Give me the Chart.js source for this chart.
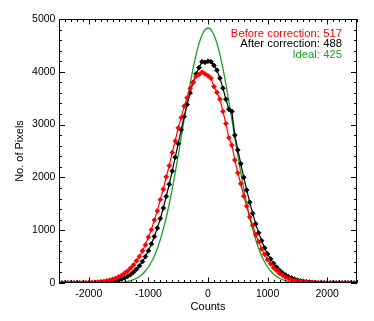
<!DOCTYPE html>
<html>
<head>
<meta charset="utf-8">
<script src="https://cdn.jsdelivr.net/npm/chart.js@4.4.0/dist/chart.umd.min.js"></script>
<style>
  body { margin: 0; background: #fff; }
  #wrap { width: 374px; height: 321px; position: relative; }
</style>
</head>
<body>
<div id="wrap"><canvas id="histChart"></canvas></div>
<script>
// histogram bins (counts)
const bins = [
  -2500, -2450, -2400, -2350, -2300, -2250, -2200, -2150, -2100, -2050,
  -2000, -1950, -1900, -1850, -1800, -1750, -1700, -1650, -1600, -1550,
  -1500, -1450, -1400, -1350, -1300, -1250, -1200, -1150, -1100, -1050,
  -1000, -950, -900, -850, -800, -750, -700, -650, -600, -550,
  -500, -450, -400, -350, -300, -250, -200, -150, -100, -50,
  0, 50, 100, 150, 200, 250, 300, 350, 400, 450,
  500, 550, 600, 650, 700, 750, 800, 850, 900, 950,
  1000, 1050, 1100, 1150, 1200, 1250, 1300, 1350, 1400, 1450,
  1500, 1550, 1600, 1650, 1700, 1750, 1800, 1850, 1900, 1950,
  2000, 2050, 2100, 2150, 2200, 2250, 2300, 2350, 2400, 2450,
  2500
];

// before correction (sigma 517)
const beforeVals = [
  0, 0, 0, 1, 1, 1, 2, 3, 4, 6,
  7, 10, 13, 18, 25, 31, 42, 53, 71, 89,
  116, 144, 185, 226, 282, 341, 420, 503, 609, 722,
  868, 1010, 1192, 1365, 1578, 1776, 2012, 2221, 2472, 2690,
  2938, 3132, 3350, 3510, 3690, 3795, 3915, 3950, 3995, 3960,
  3925, 3880, 3720, 3610, 3480, 3250, 3020, 2750, 2610, 2330,
  2085, 1880, 1645, 1455, 1250, 1090, 915, 782, 645, 545,
  440, 365, 288, 235, 182, 146, 110, 88, 65, 51,
  37, 29, 20, 15, 11, 8, 6, 4, 3, 2,
  1, 1, 0, 0, 0, 0, 0, 0, 0, 0,
  0
];

// after correction (sigma 488)
const afterVals = [
  0, 0, 0, 0, 0, 0, 0, 1, 1, 1,
  2, 3, 5, 7, 10, 13, 18, 25, 33, 44,
  58, 75, 97, 125, 160, 205, 260, 325, 405, 500,
  610, 740, 880, 1040, 1220, 1420, 1640, 1870, 2120, 2380,
  2640, 2900, 3150, 3380, 3600, 3800, 3960, 4080, 4190, 4180,
  4200, 4190, 4120, 4030, 3880, 3690, 3480, 3290, 3250, 2800,
  2520, 2260, 2000, 1760, 1530, 1320, 1120, 950, 800, 665,
  550, 455, 370, 300, 240, 190, 150, 118, 95, 72,
  55, 42, 32, 24, 18, 13, 10, 7, 5, 4,
  3, 2, 1, 1, 0, 0, 0, 0, 0, 0,
  0
];

// ideal (sigma 425)
const idealVals = [
  0, 0, 0, 0, 0, 0, 0, 0, 0, 0,
  0, 0, 0, 0, 1, 1, 2, 3, 4, 6,
  10, 14, 21, 31, 45, 64, 90, 124, 169, 228,
  303, 397, 513, 654, 822, 1019, 1245, 1499, 1781, 2089,
  2417, 2756, 3100, 3440, 3764, 4063, 4324, 4538, 4698, 4797,
  4830, 4797, 4698, 4538, 4324, 4063, 3764, 3440, 3100, 2756,
  2417, 2089, 1781, 1499, 1245, 1019, 822, 654, 513, 397,
  303, 228, 169, 124, 90, 64, 45, 31, 21, 14,
  10, 6, 4, 3, 2, 1, 1, 0, 0, 0,
  0, 0, 0, 0, 0, 0, 0, 0, 0, 0,
  0
];

const xTicks = [-2000, -1000, 0, 1000, 2000];
const yTicks = [0, 1000, 2000, 3000, 4000, 5000];
const legendLines = [
  { text: 'Before correction: 517', color: '#ff0000' },
  { text: 'After correction: 488', color: '#000000' },
  { text: 'Ideal: 425', color: '#1e9e1e' }
];

const FONT = 'Liberation Sans, Arial, Helvetica, sans-serif';

function toPoints(vals) {
  return bins.map((b, i) => ({ x: b, y: vals[i] }));
}

// 边框 + 向内刻度 (IDL 风格)
const frameTicks = {
  id: 'frameTicks',
  afterDraw(chart) {
    const { ctx, chartArea: a, scales: { x, y } } = chart;
    ctx.save();
    ctx.strokeStyle = '#000';
    ctx.lineWidth = 1;
    ctx.strokeRect(a.left + 0.5, a.top + 0.5, a.right - a.left - 1, a.bottom - a.top - 1);
    ctx.beginPath();
    for (let v = -2500; v <= 2500; v += 100) {
      const px = Math.round(x.getPixelForValue(v)) + 0.5;
      const len = v % 1000 === 0 ? 5.5 : 3;
      ctx.moveTo(px, a.bottom); ctx.lineTo(px, a.bottom - len);
      ctx.moveTo(px, a.top); ctx.lineTo(px, a.top + len);
    }
    for (let v = 0; v <= 5000; v += 200) {
      const py = Math.round(y.getPixelForValue(v)) + 0.5;
      const len = v % 1000 === 0 ? 6 : 3;
      ctx.moveTo(a.left, py); ctx.lineTo(a.left + len, py);
      ctx.moveTo(a.right, py); ctx.lineTo(a.right - len, py);
    }
    ctx.stroke();

    // 图例文字
    ctx.font = '11.3px ' + FONT;
    ctx.textAlign = 'right';
    ctx.textBaseline = 'middle';
    legendLines.forEach((l, i) => {
      ctx.fillStyle = l.color;
      ctx.fillText(l.text, 342, 33.5 + i * 10.6);
    });
    ctx.restore();
  }
};

const ctx = document.getElementById('histChart').getContext('2d');
new Chart(ctx, {
  type: 'line',
  data: {
    datasets: [
      {
        label: 'Before correction',
        data: toPoints(beforeVals),
        borderColor: '#ff0000',
        backgroundColor: '#ff0000',
        borderWidth: 1.2,
        pointStyle: 'rectRot',
        pointRadius: 2.4,
        pointBorderWidth: 0.8,
        tension: 0
      },
      {
        label: 'After correction',
        data: toPoints(afterVals),
        borderColor: '#000000',
        backgroundColor: '#000000',
        borderWidth: 1.2,
        pointStyle: 'rectRot',
        pointRadius: 2.4,
        pointBorderWidth: 0.8,
        tension: 0
      },
      {
        label: 'Ideal',
        data: toPoints(idealVals),
        borderColor: '#1e9e1e',
        borderWidth: 1.3,
        pointRadius: 0,
        cubicInterpolationMode: 'monotone'
      }
    ]
  },
  options: {
    responsive: true,
    maintainAspectRatio: false,
    animation: false,
    layout: { padding: { left: 0, top: 19, right: 17, bottom: 0 } },
    plugins: {
      legend: { display: false },
      tooltip: { enabled: false }
    },
    scales: {
      x: {
        type: 'linear',
        min: -2500,
        max: 2500,
        afterBuildTicks: s => { s.ticks = xTicks.map(v => ({ value: v })); },
        afterFit: s => { s.height = 38; },
        grid: { display: false, drawTicks: false },
        border: { display: false },
        ticks: {
          color: '#000', padding: 4.7, maxRotation: 0,
          font: { family: FONT, size: 10.5 },
          callback: v => String(v)
        },
        title: {
          display: true, text: 'Counts', color: '#000',
          font: { family: FONT, size: 11 },
          padding: { top: 0, bottom: 7.7 }
        }
      },
      y: {
        min: 0,
        max: 5000,
        afterBuildTicks: s => { s.ticks = yTicks.map(v => ({ value: v })); },
        afterFit: s => { s.width = 59; },
        grid: { display: false, drawTicks: false },
        border: { display: false },
        ticks: {
          color: '#000', padding: 3.6,
          font: { family: FONT, size: 10.5 },
          callback: v => String(v)
        },
        title: {
          display: true, text: 'No. of Pixels', color: '#000',
          font: { family: FONT, size: 11 },
          padding: { top: 13.4, bottom: 0 }
        }
      }
    }
  },
  plugins: [frameTicks]
});
</script>
</body>
</html>
